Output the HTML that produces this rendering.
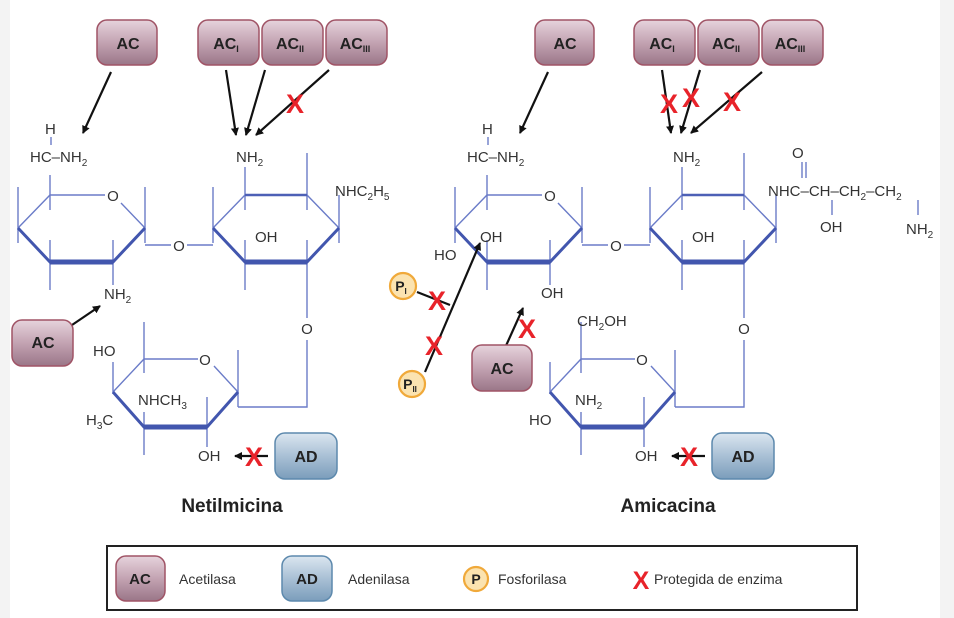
<!DOCTYPE html>
<html><head><meta charset="utf-8"><style>
html,body{margin:0;padding:0;background:#fff}
svg{display:block}
text{font-family:"Liberation Sans",sans-serif}
</style></head><body>
<svg width="954" height="618" viewBox="0 0 954 618" xmlns="http://www.w3.org/2000/svg">
<defs>
<linearGradient id="gac" x1="0" y1="0" x2="0" y2="1"><stop offset="0" stop-color="#e6d3dc"/><stop offset="0.5" stop-color="#c3a3b2"/><stop offset="1" stop-color="#9a7688"/></linearGradient>
<linearGradient id="gad" x1="0" y1="0" x2="0" y2="1"><stop offset="0" stop-color="#dbe6f0"/><stop offset="0.5" stop-color="#a9c0d5"/><stop offset="1" stop-color="#7b9dbb"/></linearGradient>
<marker id="ah" markerWidth="8" markerHeight="8" refX="7" refY="4" orient="auto" markerUnits="userSpaceOnUse"><path d="M0,0 L8,4 L0,8 Z" fill="#111"/></marker>
<g id="ringA">
 <g stroke="#6b7cc8" stroke-width="1.4" fill="none">
  <path d="M18,228 L50,195 L105,195 M121,203 L145,228"/>
  <path d="M18,187 V243 M145,187 V243 M50,175 V210 M50,240 V290 M113,240 V285"/>
 </g>
 <path d="M18,228 L50,262 L113,262 L145,228" stroke="#4256ae" stroke-width="3" fill="none"/>
 <path d="M50,262 L113,262" stroke="#4256ae" stroke-width="5"/>
 <path d="M145,245 H171 M187,245 H213" stroke="#6b7cc8" stroke-width="1.4"/>
 <text x="179" y="251" font-size="15" fill="#333" text-anchor="middle">O</text>
 <text x="113" y="201" font-size="15" fill="#333" text-anchor="middle">O</text>
 <path d="M51,137 V145" stroke="#6b7cc8" stroke-width="1.4"/>
</g>
<g id="ringB">
 <g stroke="#6b7cc8" stroke-width="1.4" fill="none">
  <path d="M213,228 L245,195 M307,195 L339,228"/>
  <path d="M213,187 V243 M339,195 V243 M245,167 V210 M245,240 V290 M307,153 V210 M307,240 V318"/>
 </g>
 <path d="M245,195 L307,195" stroke="#4d60b6" stroke-width="2.4"/>
 <path d="M213,228 L245,262 L307,262 L339,228" stroke="#4256ae" stroke-width="3" fill="none"/>
 <path d="M245,262 L307,262" stroke="#4256ae" stroke-width="5"/>
 <text x="307" y="334" font-size="15" fill="#333" text-anchor="middle">O</text>
 <path d="M307,340 V407 H238" stroke="#6b7cc8" stroke-width="1.4" fill="none"/>
 <text x="255" y="242" font-size="15" fill="#333">OH</text>
</g>
<g id="ringC">
 <g stroke="#6b7cc8" stroke-width="1.4" fill="none">
  <path d="M113,392 L144,359 L198,359 M214,366 L238,392"/>
  <path d="M144,322 V373 M144,412 V455 M113,362 V394 M238,350 V407 M207,397 V447"/>
 </g>
 <path d="M113,392 L144,427 L207,427 L238,392" stroke="#4256ae" stroke-width="3" fill="none"/>
 <path d="M144,427 L207,427" stroke="#4256ae" stroke-width="5"/>
 <text x="205" y="365" font-size="15" fill="#333" text-anchor="middle">O</text>
</g>
</defs>
<rect x="0" y="0" width="10" height="618" fill="#f3f3f3"/>
<rect x="940" y="0" width="14" height="618" fill="#f3f3f3"/>

<!-- Netilmicina -->
<use href="#ringA"/><use href="#ringB"/><use href="#ringC"/>
<g font-size="15" fill="#333">
<text x="45" y="134">H</text>
<text x="30" y="162">HC–NH<tspan font-size="10" dy="4">2</tspan></text>
<text x="236" y="162">NH<tspan font-size="10" dy="4">2</tspan></text>
<text x="335" y="196">NHC<tspan font-size="10" dy="4">2</tspan><tspan dy="-4">H</tspan><tspan font-size="10" dy="4">5</tspan></text>
<text x="104" y="299">NH<tspan font-size="10" dy="4">2</tspan></text>
<text x="93" y="356">HO</text>
<text x="138" y="405">NHCH<tspan font-size="10" dy="4">3</tspan></text>
<text x="86" y="425">H<tspan font-size="10" dy="4">3</tspan><tspan dy="-4">C</tspan></text>
<text x="198" y="461">OH</text>
</g>

<!-- Amicacina -->
<g transform="translate(437,0)"><use href="#ringA"/><use href="#ringB"/><use href="#ringC"/></g>
<g font-size="15" fill="#333">
<text x="482" y="134">H</text>
<text x="467" y="162">HC–NH<tspan font-size="10" dy="4">2</tspan></text>
<text x="673" y="162">NH<tspan font-size="10" dy="4">2</tspan></text>
<text x="768" y="196">NHC–CH–CH<tspan font-size="10" dy="4">2</tspan><tspan dy="-4">–CH</tspan><tspan font-size="10" dy="4">2</tspan></text>
<text x="792" y="158">O</text>
<text x="820" y="232">OH</text>
<text x="906" y="234">NH<tspan font-size="10" dy="4">2</tspan></text>
<text x="434" y="260">HO</text>
<text x="480" y="242">OH</text>
<text x="541" y="298">OH</text>
<text x="577" y="326">CH<tspan font-size="10" dy="4">2</tspan><tspan dy="-4">OH</tspan></text>
<text x="575" y="405">NH<tspan font-size="10" dy="4">2</tspan></text>
<text x="529" y="425">HO</text>
<text x="635" y="461">OH</text>
</g>
<g stroke="#6b7cc8" stroke-width="1.4"><path d="M802,162 V178 M806,162 V178 M832,200 V215 M918,200 V215"/></g>

<!-- arrows -->
<g stroke="#111" stroke-width="2.2" fill="none" marker-end="url(#ah)">
<path d="M111,72 L83,133"/>
<path d="M226,70 L236,135"/><path d="M265,70 L246,135"/><path d="M329,70 L256,135"/>
<path d="M72,325 L100,306"/>
<path d="M268,456 L235,456"/>
<path d="M548,72 L520,133"/>
<path d="M662,70 L671,133"/><path d="M700,70 L681,133"/><path d="M762,72 L691,133"/>
<path d="M425,372 L480,243"/>
<path d="M505,348 L523,308"/>
<path d="M705,456 L672,456"/>
</g>
<path d="M417,292 L450,305" stroke="#111" stroke-width="2.2"/>

<!-- red X -->
<g fill="#e8232a" font-family="Liberation Sans" font-weight="bold" font-size="27" text-anchor="middle">
<text x="295" y="113">X</text>
<text x="254" y="466">X</text>
<text x="669" y="113">X</text><text x="691" y="107">X</text><text x="732" y="111">X</text>
<text x="437" y="310">X</text><text x="434" y="355">X</text>
<text x="527" y="338">X</text>
<text x="689" y="466">X</text>
</g>

<!-- boxes -->
<g stroke="#a05466" stroke-width="1.5" fill="url(#gac)">
<rect x="97" y="20" width="60" height="45" rx="10"/>
<rect x="198" y="20" width="61" height="45" rx="10"/><rect x="262" y="20" width="61" height="45" rx="10"/><rect x="326" y="20" width="61" height="45" rx="10"/>
<rect x="12" y="320" width="61" height="46" rx="10"/>
<rect x="535" y="20" width="59" height="45" rx="10"/>
<rect x="634" y="20" width="61" height="45" rx="10"/><rect x="698" y="20" width="61" height="45" rx="10"/><rect x="762" y="20" width="61" height="45" rx="10"/>
<rect x="472" y="345" width="60" height="46" rx="10"/>
<rect x="116" y="556" width="49" height="45" rx="10"/>
</g>
<g stroke="#5d89ad" stroke-width="1.5" fill="url(#gad)">
<rect x="275" y="433" width="62" height="46" rx="10"/>
<rect x="712" y="433" width="62" height="46" rx="10"/>
<rect x="282" y="556" width="50" height="45" rx="10"/>
</g>
<g fill="#fbe3b0" stroke="#f0a93a" stroke-width="2.2">
<circle cx="403" cy="286" r="13"/><circle cx="412" cy="384" r="13"/><circle cx="476" cy="579" r="12"/>
</g>
<g font-weight="bold" fill="#222" font-size="16" text-anchor="middle">
<text x="128" y="49">AC</text>
<text x="226" y="49">AC<tspan font-size="9" dy="3">I</tspan></text>
<text x="290" y="49">AC<tspan font-size="9" dy="3">II</tspan></text>
<text x="355" y="49">AC<tspan font-size="9" dy="3">III</tspan></text>
<text x="43" y="348">AC</text>
<text x="565" y="49">AC</text>
<text x="662" y="49">AC<tspan font-size="9" dy="3">I</tspan></text>
<text x="726" y="49">AC<tspan font-size="9" dy="3">II</tspan></text>
<text x="790" y="49">AC<tspan font-size="9" dy="3">III</tspan></text>
<text x="502" y="374">AC</text>
<text x="306" y="462">AD</text>
<text x="743" y="462">AD</text>
<text x="140" y="584" font-size="15">AC</text>
<text x="307" y="584" font-size="15">AD</text>
<text x="401" y="291" font-size="14">P<tspan font-size="8" dy="3">I</tspan></text>
<text x="410" y="389" font-size="14">P<tspan font-size="8" dy="3">II</tspan></text>
<text x="476" y="584" font-size="14">P</text>
<text x="232" y="512" font-size="19">Netilmicina</text>
<text x="668" y="512" font-size="19">Amicacina</text>
</g>

<!-- legend -->
<rect x="107" y="546" width="750" height="64" fill="none" stroke="#222" stroke-width="2"/>
<g font-size="14" fill="#333">
<text x="179" y="584">Acetilasa</text>
<text x="348" y="584">Adenilasa</text>
<text x="498" y="584">Fosforilasa</text>
<text x="654" y="584">Protegida de enzima</text>
</g>
<text x="641" y="589" fill="#e8232a" font-weight="bold" font-size="25" text-anchor="middle">X</text>
</svg>
</body></html>
